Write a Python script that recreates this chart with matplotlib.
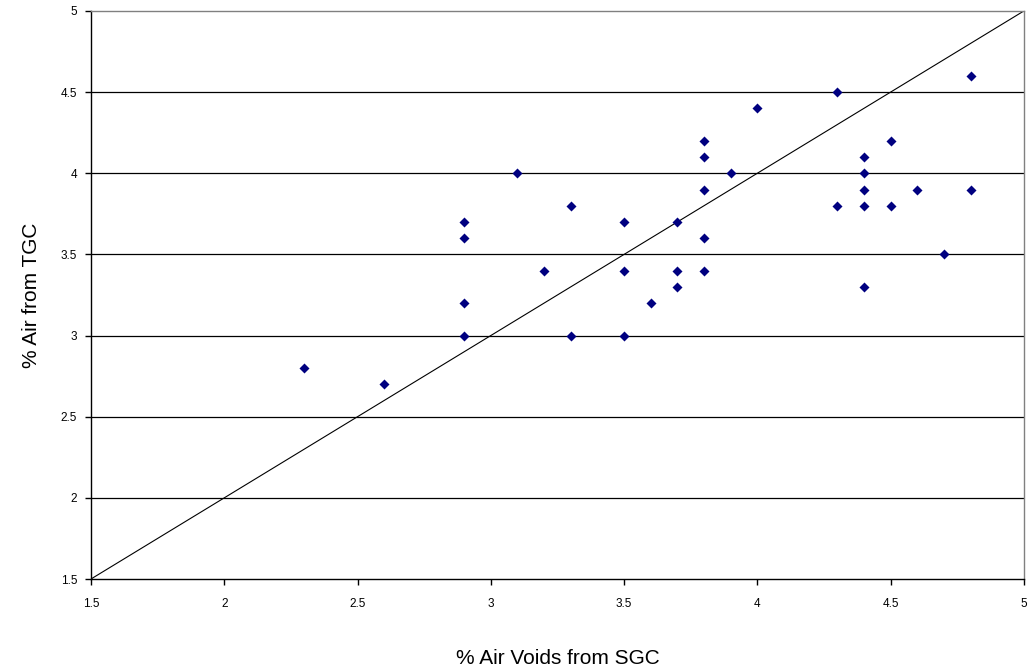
import matplotlib
matplotlib.use("Agg")
import matplotlib.pyplot as plt
import numpy as np

plt.rcParams['font.family'] = ['Liberation Sans', 'DejaVu Sans']

# % air voids from SGC (x) vs % air from TGC (y)
sgc = [2.3, 2.6, 2.9, 2.9, 2.9, 2.9, 3.1, 3.2, 3.3, 3.3,
       3.5, 3.5, 3.5, 3.6, 3.7, 3.7, 3.7, 3.8, 3.8, 3.8,
       3.8, 3.8, 3.9, 4.0, 4.3, 4.3, 4.4, 4.4, 4.4, 4.4,
       4.4, 4.5, 4.5, 4.6, 4.7, 4.8, 4.8]
tgc = [2.8, 2.7, 3.7, 3.6, 3.2, 3.0, 4.0, 3.4, 3.8, 3.0,
       3.7, 3.4, 3.0, 3.2, 3.7, 3.4, 3.3, 4.2, 4.1, 3.9,
       3.6, 3.4, 4.0, 4.4, 4.5, 3.8, 4.1, 4.0, 3.9, 3.8,
       3.3, 4.2, 3.8, 3.9, 3.5, 4.6, 3.9]
line_of_equality = [1.5, 5.0]
ticks = [1.5, 2, 2.5, 3, 3.5, 4, 4.5, 5]
tick_labels = ['1.5', '2', '2.5', '3', '3.5', '4', '4.5', '5']

fig = plt.figure(figsize=(10.29, 6.69), dpi=100)
ax = fig.add_axes([0.0884, 0.1345, 0.9066, 0.8491])

ax.plot(line_of_equality, line_of_equality, color='black', lw=0.8, zorder=2)
ax.scatter(sgc, tgc, marker='D', s=26, color='#000080', zorder=3, linewidths=0)

ax.set_xlim(1.5, 5)
ax.set_ylim(1.5, 5)
ax.set_xticks(ticks)
ax.set_xticklabels(tick_labels)
ax.set_yticks(ticks)
ax.set_yticklabels(tick_labels)
ax.tick_params(axis='both', labelsize=8.5, length=4, width=1, direction='out', pad=6)
ax.tick_params(axis='x', pad=10)

for y in ticks[1:-1]:
    ax.axhline(y, color='black', lw=0.9, zorder=1)

ax.spines['left'].set_color('black')
ax.spines['bottom'].set_color('black')
ax.spines['top'].set_color('#808080')
ax.spines['right'].set_color('#808080')
for s in ax.spines.values():
    s.set_linewidth(1.0)

ax.set_xlabel('% Air Voids from SGC', fontsize=15, labelpad=28)
ax.set_ylabel('% Air from TGC', fontsize=15, labelpad=14)

fig.savefig('out.png', dpi=100)
